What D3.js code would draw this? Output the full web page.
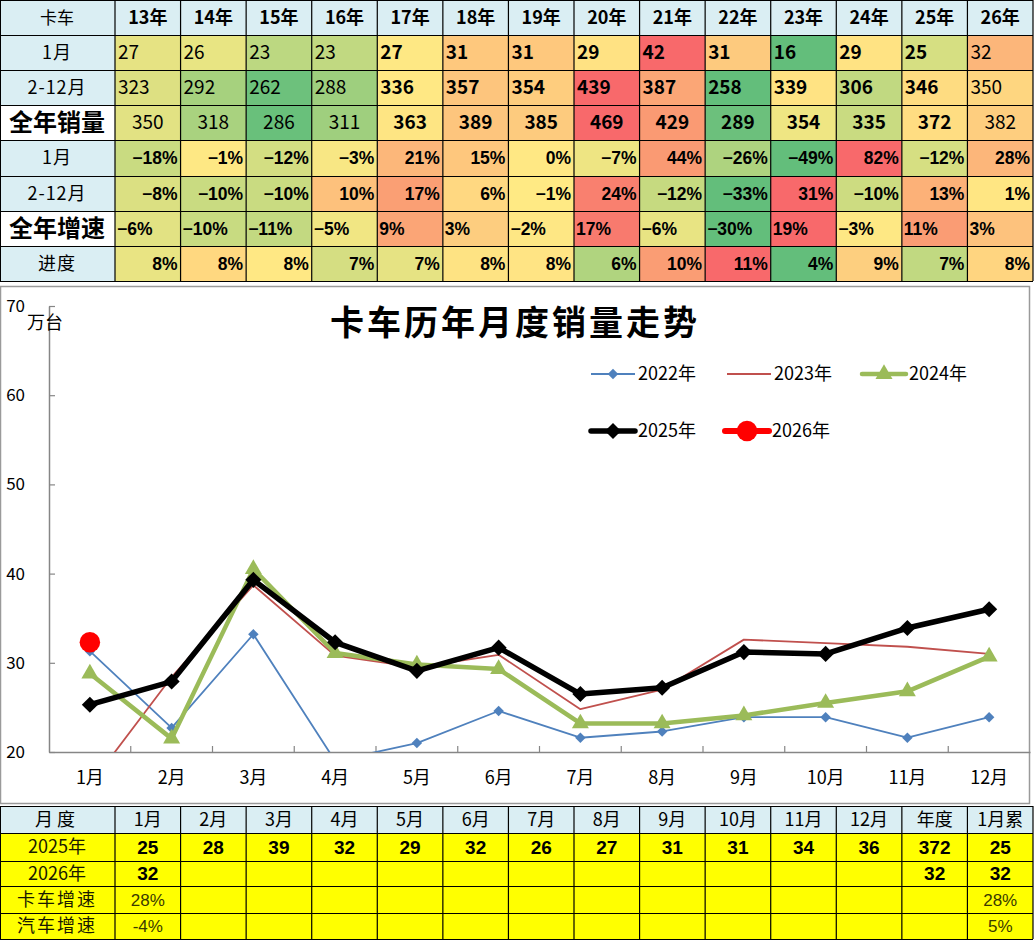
<!DOCTYPE html>
<html><head><meta charset="utf-8">
<script src="https://cdn.jsdelivr.net/npm/d3@7"></script>
<style>body{margin:0;background:#fff}svg{display:block}</style>
</head><body>
<script>
// ---------- DATA ----------
const years = ['13年','14年','15年','16年','17年','18年','19年','20年','21年','22年','23年','24年','25年','26年'];
const janSales = [27,26,23,23,27,31,31,29,42,31,16,29,25,32];
const febDecSales = [323,292,262,288,336,357,354,439,387,258,339,306,346,350];
const annualSales = [350,318,286,311,363,389,385,469,429,289,354,335,372,382];
const janGrowth = [-18,-1,-12,-3,21,15,0,-7,44,-26,-49,82,-12,28];
const febDecGrowth = [-8,-10,-10,10,17,6,-1,24,-12,-33,31,-10,13,1];
const annualGrowth = [-6,-10,-11,-5,9,3,-2,17,-6,-30,19,-3,11,3];
const progress = [8,8,8,7,7,8,8,6,10,11,4,9,7,8];
const rowLabels = ['1月','2-12月','全年销量','1月','2-12月','全年增速','进度'];

const months = ['1月','2月','3月','4月','5月','6月','7月','8月','9月','10月','11月','12月'];
const s2022 = [31.3,22.7,33.2,19.0,21.0,24.6,21.6,22.3,23.9,23.9,21.6,23.9];
const s2023 = [16.3,28.4,38.7,30.8,29.5,30.9,24.8,27.0,32.6,32.2,31.8,31.0];
const s2024 = [28.8,21.5,40.5,31.1,29.8,29.3,23.2,23.2,24.1,25.5,26.8,30.7];
const s2025 = [25.3,27.9,39.3,32.3,29.1,31.7,26.5,27.2,31.2,31.0,33.9,36.0];
const s2026 = [32.3];
const yTicks = [20,30,40,50,60,70];

const bottomHeader = ['月度','1月','2月','3月','4月','5月','6月','7月','8月','9月','10月','11月','12月','年度','1月累'];
const bottomLabels = ['2025年','2026年','卡车增速','汽车增速'];
const b2025 = [25,28,39,32,29,32,26,27,31,31,34,36,372,25];
const b2026 = [32,null,null,null,null,null,null,null,null,null,null,null,32,32];
const bTruckGrowth = ['28%',null,null,null,null,null,null,null,null,null,null,null,null,'28%'];
const bAutoGrowth = ['-4%',null,null,null,null,null,null,null,null,null,null,null,null,'5%'];

// ---------- STYLE (heat colours per cell) ----------
const heatColors = [
 ['#E6E383','#E8E583','#BCD881','#C1D981','#FEE884','#FEC87D','#FEC87D','#FFE283','#F8696B','#FDCA7E','#63BE7B','#FFE383','#D6DF82','#FCB67A'],
 ['#DDE082','#A6D17E','#6DC17C','#9ECF7E','#FFE884','#FDC57D','#FECD7E','#F8696B','#FBA676','#63BE7B','#FFE383','#C1D981','#FEDC81','#FED680'],
 ['#E2E283','#A9D27F','#69C07B','#9FCF7E','#FEE583','#FDC57D','#FDCB7E','#F8696B','#FA9A73','#6CC07C','#EFE683','#C9DB81','#FFDD82','#FECE7F'],
 ['#C9DB81','#FEE884','#D3DE82','#F8E784','#FCB77A','#FEC77D','#FFE884','#EEE583','#FA9A73','#AED37F','#63BE7B','#F8696B','#D6DF82','#FCB67A'],
 ['#DBE082','#C9DB81','#C9DB81','#FDC17C','#FA9F74','#FFD881','#FFEA84','#F9806F','#C6DA80','#63BE7B','#F8696B','#CDDC81','#FCB178','#FFE683'],
 ['#E2E283','#C8DB81','#C3D981','#F1E683','#FBA576','#FDCD7F','#FEE784','#F87A6E','#E8E483','#63BE7B','#F8696B','#FEE884','#FA9C74','#FDC27D'],
 ['#E9E483','#FFD880','#FFE884','#D5DE82','#E6E383','#FEE383','#FFE484','#B0D47F','#FA9D74','#F8696B','#63BE7B','#FDCF7F','#C1D981','#FFD580']
];
const F = "'Noto Sans CJK SC','Microsoft YaHei',sans-serif";
const FA = "'Liberation Sans',Arial,sans-serif";
const lightBlue = '#DAEEF3';

const svg = d3.select('body').append('svg').attr('width',1034).attr('height',941);
svg.append('rect').attr('width',1034).attr('height',941).attr('fill','#fff');

// ---------- TOP TABLE ----------
const colX = d3.scaleLinear().domain([0,14]).range([115,1033]);
const rowY = [0,35,70,105,140,176,211,246,281];
const topG = svg.append('g');
topG.append('rect').attr('x',0).attr('y',0).attr('width',1033).attr('height',35).attr('fill',lightBlue);
topG.append('text').attr('x',57).attr('y',18).attr('dy','0.35em').attr('text-anchor','middle')
  .attr('font-family',F).attr('font-size',17).text('卡车');
years.forEach((yr,i)=>{
  topG.append('text').attr('x',(colX(i)+colX(i+1))/2).attr('y',18).attr('dy','0.35em')
    .attr('text-anchor','middle').attr('font-family',F).attr('font-weight','bold').attr('font-size',18).text(yr);
});
const valueRows = [janSales,febDecSales,annualSales];
const pctRows = [janGrowth,febDecGrowth,annualGrowth,progress];
rowLabels.forEach((lab,r)=>{
  const y0=rowY[r+1], y1=rowY[r+2];
  const big = (lab==='全年销量'||lab==='全年增速');
  topG.append('rect').attr('x',0).attr('y',y0).attr('width',115).attr('height',y1-y0).attr('fill',big?'#fff':lightBlue);
  topG.append('text').attr('x',57).attr('y',(y0+y1)/2).attr('dy','0.36em').attr('text-anchor','middle')
    .attr('font-family',F).attr('font-size',big?24:18).attr('font-weight',big?'bold':'normal')
    .attr('letter-spacing',big?0:1).text(lab);
  years.forEach((yr,i)=>{
    const x0=colX(i), x1=colX(i+1);
    topG.append('rect').attr('x',x0).attr('y',y0).attr('width',x1-x0).attr('height',y1-y0).attr('fill',heatColors[r][i]);
    let txt, anchor, tx, weight;
    if(r<3){
      const v=valueRows[r][i];
      txt=String(v);
      weight=(i>=4&&i<=12)?'bold':'normal';
      if(r===2){anchor='middle';tx=(x0+x1)/2;} else {anchor='start';tx=x0+3;}
    } else {
      const v=pctRows[r-3][i];
      txt=(v<0?'−'+Math.abs(v):v)+'%';
      weight='bold';
      if(r===5){anchor='start';tx=x0+2;} else {anchor='end';tx=x1-3;}
    }
    topG.append('text').attr('x',tx).attr('y',(y0+y1)/2).attr('dy','0.36em').attr('text-anchor',anchor)
      .attr('font-family',r<3?F:FA).attr('font-weight',weight).attr('font-size',r<3?19:17.5).text(txt);
  });
});
for(let i=0;i<=14;i++){
  topG.append('line').attr('x1',colX(i)).attr('x2',colX(i)).attr('y1',0).attr('y2',281).attr('stroke','#000').attr('stroke-width',1.2);
}
topG.append('line').attr('x1',0.5).attr('x2',0.5).attr('y1',0).attr('y2',281).attr('stroke','#000');
rowY.forEach(yy=>{
  topG.append('line').attr('x1',0).attr('x2',1033).attr('y1',yy+0.5).attr('y2',yy+0.5).attr('stroke','#000').attr('stroke-width',1.2);
});

// ---------- CHART ----------
svg.append('rect').attr('x',0.5).attr('y',286.5).attr('width',1029).attr('height',517)
  .attr('fill','#fff').attr('stroke','#9a9a9a').attr('stroke-width',1.5);
const x = d3.scaleBand().domain(months).range([49,1030]);
const y = d3.scaleLinear().domain([20,70]).range([752,306]);
const cx = m => x(m)+x.bandwidth()/2;

svg.append('text').attr('x',515).attr('y',335).attr('text-anchor','middle').attr('font-family',F)
  .attr('font-weight','bold').attr('font-size',34).attr('letter-spacing',3).text('卡车历年月度销量走势');

const yAxis = svg.append('g').attr('transform','translate(49,0)')
  .call(d3.axisLeft(y).tickValues(yTicks).tickSizeInner(-6).tickSizeOuter(0).tickPadding(24));
yAxis.select('.domain').attr('stroke','#868686').attr('stroke-width',1.5);
yAxis.selectAll('.tick line').attr('stroke','#868686').attr('stroke-width',1.2);
yAxis.selectAll('.tick text').attr('font-family',F).attr('font-size',17).attr('fill','#000');

const xAxis = svg.append('g').attr('transform','translate(0,752)')
  .call(d3.axisBottom(x).tickSize(0).tickPadding(19));
xAxis.select('.domain').attr('stroke','#868686').attr('stroke-width',1.5);
xAxis.selectAll('.tick text').attr('font-family',F).attr('font-size',18).attr('fill','#000');
months.slice(1).forEach(m=>{
  svg.append('line').attr('x1',x(m)).attr('x2',x(m)).attr('y1',752).attr('y2',746).attr('stroke','#868686').attr('stroke-width',1.2);
});

svg.append('text').attr('x',27).attr('y',323).attr('dy','0.36em').attr('font-family',F).attr('font-size',18).text('万台');

svg.append('clipPath').attr('id','plotclip').append('rect').attr('x',49).attr('y',290).attr('width',981).attr('height',462);
const plot = svg.append('g').attr('clip-path','url(#plotclip)');
const line = d3.line().x((d,i)=>cx(months[i])).y(d=>y(d));

const series = [
  {data:s2022,color:'#4F81BD',w:1.8,sym:d3.symbolSquare,size:55,rot:45,name:'2022年'},
  {data:s2023,color:'#C0504D',w:1.8,sym:null,name:'2023年'},
  {data:s2024,color:'#9BBB59',w:4.5,sym:d3.symbolTriangle,size:125,rot:0,name:'2024年'},
  {data:s2025,color:'#000000',w:5.5,sym:d3.symbolSquare,size:130,rot:45,name:'2025年'},
  {data:s2026,color:'#FF0000',w:6,sym:d3.symbolCircle,size:330,rot:0,name:'2026年'}
];
series.forEach(s=>{
  plot.append('path').datum(s.data).attr('d',line).attr('fill','none').attr('stroke',s.color)
    .attr('stroke-width',s.w).attr('stroke-linejoin','round');
  if(s.sym){
    plot.selectAll(null).data(s.data).enter().append('path')
      .attr('d',d3.symbol(s.sym,s.size))
      .attr('transform',(d,i)=>`translate(${cx(months[i])},${y(d)}) rotate(${s.rot})`)
      .attr('fill',s.color);
  }
});

const legPos = [[591,374],[727,374],[862,374],[591,431],[725,431]];
series.forEach((s,k)=>{
  const [lx,ly]=legPos[k];
  const g=svg.append('g');
  g.append('line').attr('x1',lx).attr('x2',lx+44).attr('y1',ly).attr('y2',ly).attr('stroke',s.color)
    .attr('stroke-width',s.w).attr('stroke-linecap',s.w>3?'round':'butt');
  if(s.sym){
    g.append('path').attr('d',d3.symbol(s.sym,s.size))
      .attr('transform',`translate(${lx+22},${ly}) rotate(${s.rot})`).attr('fill',s.color);
  }
  g.append('text').attr('x',lx+47).attr('y',ly).attr('dy','0.36em').attr('font-family',F)
    .attr('font-size',18).text(s.name);
});

// ---------- BOTTOM TABLE ----------
const bRowY = [806,833,861,886,913,939];
const bottomG = svg.append('g');
bottomG.append('rect').attr('x',0).attr('y',bRowY[0]).attr('width',1033).attr('height',bRowY[1]-bRowY[0]).attr('fill',lightBlue);
bottomG.append('rect').attr('x',0).attr('y',bRowY[1]).attr('width',1033).attr('height',bRowY[5]-bRowY[1]).attr('fill','#FFFF00');
const colMid = i => i===0?57:(colX(i-1)+colX(i))/2;
bottomHeader.forEach((h,i)=>{
  bottomG.append('text').attr('x',colMid(i)).attr('y',(bRowY[0]+bRowY[1])/2).attr('dy','0.36em')
    .attr('text-anchor','middle').attr('font-family',F).attr('font-size',18).attr('letter-spacing',i===0?4:0).text(h);
});
const bRows = [b2025,b2026,bTruckGrowth,bAutoGrowth];
bottomLabels.forEach((lab,r)=>{
  const yc=(bRowY[r+1]+bRowY[r+2])/2;
  bottomG.append('text').attr('x',57).attr('y',yc).attr('dy','0.36em').attr('text-anchor','middle')
    .attr('font-family',F).attr('font-size',18).attr('letter-spacing',r>=2?2:0).attr('fill','#1a1a00').text(lab);
  bRows[r].forEach((v,i)=>{
    if(v===null) return;
    bottomG.append('text').attr('x',colMid(i+1)).attr('y',yc).attr('dy','0.36em').attr('text-anchor','middle')
      .attr('font-family',r<2?FA:"'Liberation Sans Narrow','Arial Narrow',"+FA)
      .attr('font-weight',r<2?'bold':'normal').attr('font-size',r<2?19:17)
      .attr('fill',r<2?'#000':'#3a3a00').text(v);
  });
});
for(let i=0;i<=14;i++){
  bottomG.append('line').attr('x1',colX(i)).attr('x2',colX(i)).attr('y1',bRowY[0]).attr('y2',bRowY[5]).attr('stroke','#000').attr('stroke-width',1.2);
}
bottomG.append('line').attr('x1',0.5).attr('x2',0.5).attr('y1',bRowY[0]).attr('y2',bRowY[5]).attr('stroke','#000');
bRowY.forEach(yy=>{
  bottomG.append('line').attr('x1',0).attr('x2',1033).attr('y1',yy+0.5).attr('y2',yy+0.5).attr('stroke','#000').attr('stroke-width',1.2);
});
</script>
</body></html>
